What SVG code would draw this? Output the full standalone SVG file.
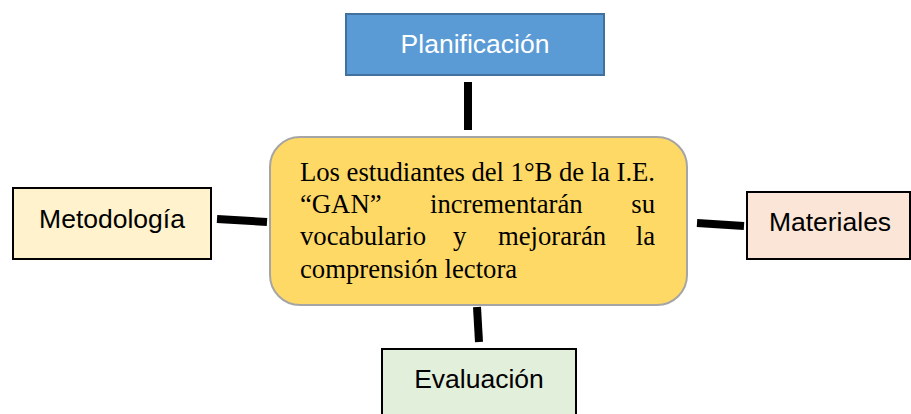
<svg xmlns="http://www.w3.org/2000/svg" width="911" height="414" viewBox="0 0 911 414">
<style>
.lbl{font-family:"Liberation Sans",Arial,sans-serif;font-size:26.5px;text-anchor:middle;fill:#000}
.box{stroke:#000;stroke-width:2}
.main{font-family:"Liberation Serif","Times New Roman",serif;font-size:26.7px;fill:#000}
.conn{stroke:#000;stroke-width:8;fill:none}
</style>
<rect width="911" height="414" fill="#fff"/>
<g id="connectors">
<line class="conn" x1="468" y1="82" x2="468" y2="130"/>
<line class="conn" x1="217" y1="219" x2="267" y2="222"/>
<line class="conn" x1="697" y1="223" x2="744" y2="226"/>
<line class="conn" x1="477" y1="307" x2="479" y2="342"/>
</g>
<g id="planificacion">
<rect x="346" y="14" width="258" height="61" fill="#5b9bd5" stroke="#41719c" stroke-width="2"/>
<text class="lbl" x="475" y="53" style="fill:#fff">Planificación</text>
</g>
<g id="central">
<rect x="270" y="137" width="417" height="168" rx="30" fill="#ffd966" stroke="#a5a5a5" stroke-width="2"/>
<text class="main" x="300" y="181" textLength="355" lengthAdjust="spacing">Los estudiantes del 1°B de la I.E.</text>
<text class="main" x="300" y="213">“GAN”</text>
<text class="main" x="430" y="213">incrementarán</text>
<text class="main" x="655" y="213" text-anchor="end">su</text>
<text class="main" x="300" y="245">vocabulario</text>
<text class="main" x="453" y="245">y</text>
<text class="main" x="498" y="245">mejorarán</text>
<text class="main" x="655" y="245" text-anchor="end">la</text>
<text class="main" x="300" y="278">comprensión lectora</text>
</g>
<g id="metodologia">
<rect class="box" x="13" y="188" width="198" height="71" fill="#fff2cc"/>
<text class="lbl" x="112" y="228">Metodología</text>
</g>
<g id="materiales">
<rect class="box" x="747" y="192" width="163" height="67" fill="#fbe5d6"/>
<text class="lbl" x="830" y="231">Materiales</text>
</g>
<g id="evaluacion">
<rect class="box" x="382" y="349" width="194" height="70" fill="#e2efda"/>
<text class="lbl" x="479" y="388">Evaluación</text>
</g>
</svg>
